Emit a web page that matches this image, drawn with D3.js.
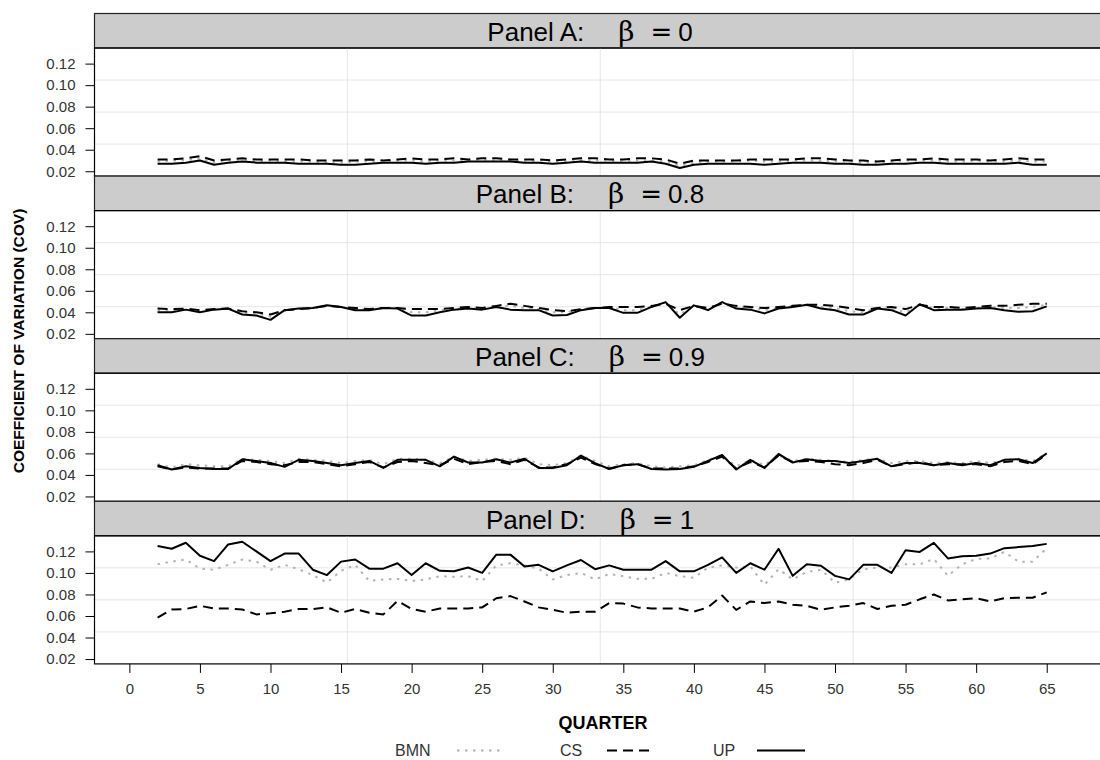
<!DOCTYPE html>
<html>
<head>
<meta charset="utf-8">
<script src="https://cdn.jsdelivr.net/npm/d3@7"></script>
<style>
  body { margin: 0; background: #fff; }
  svg { display: block; font-family: "Liberation Sans", Arial, sans-serif; }
</style>
</head>
<body>
<div id="chart"></div>
<script>
// quarters 2..65
var quarters = d3.range(2, 66);

var panel_titles = ['Panel A:', 'Panel B:', 'Panel C:', 'Panel D:'];
var panel_betas = ['0', '0.8', '0.9', '1'];

var y_ticks = [0.02, 0.04, 0.06, 0.08, 0.10, 0.12];
var x_ticks = [0, 5, 10, 15, 20, 25, 30, 35, 40, 45, 50, 55, 60, 65];

var series_names = ['BMN', 'CS', 'UP'];

// Panel A: beta = 0
var bmn_a = [0.029, 0.030, 0.030, 0.032, 0.028, 0.030, 0.030, 0.029, 0.030, 0.029,
             0.029, 0.029, 0.028, 0.028, 0.029, 0.029, 0.029, 0.030, 0.030, 0.029,
             0.030, 0.030, 0.030, 0.031, 0.030, 0.030, 0.029, 0.030, 0.029, 0.029,
             0.030, 0.030, 0.030, 0.029, 0.030, 0.030, 0.029, 0.025, 0.028, 0.029,
             0.029, 0.029, 0.030, 0.029, 0.029, 0.030, 0.030, 0.030, 0.029, 0.029,
             0.028, 0.028, 0.029, 0.030, 0.030, 0.030, 0.029, 0.029, 0.030, 0.029,
             0.029, 0.030, 0.029, 0.029];
var cs_a = [0.031, 0.031, 0.032, 0.034, 0.030, 0.031, 0.032, 0.031, 0.031, 0.031,
            0.031, 0.030, 0.030, 0.030, 0.030, 0.031, 0.030, 0.031, 0.032, 0.031,
            0.031, 0.032, 0.031, 0.032, 0.032, 0.031, 0.031, 0.031, 0.030, 0.031,
            0.032, 0.032, 0.031, 0.031, 0.032, 0.032, 0.031, 0.027, 0.030, 0.030,
            0.030, 0.030, 0.031, 0.031, 0.031, 0.031, 0.032, 0.032, 0.031, 0.030,
            0.030, 0.029, 0.030, 0.031, 0.031, 0.032, 0.031, 0.031, 0.031, 0.030,
            0.031, 0.032, 0.031, 0.031];
var up_a = [0.027, 0.027, 0.028, 0.030, 0.026, 0.028, 0.029, 0.028, 0.028, 0.028,
            0.027, 0.027, 0.027, 0.026, 0.026, 0.027, 0.028, 0.028, 0.028, 0.027,
            0.028, 0.028, 0.029, 0.029, 0.029, 0.029, 0.028, 0.028, 0.027, 0.028,
            0.029, 0.028, 0.028, 0.028, 0.028, 0.029, 0.027, 0.023, 0.026, 0.027,
            0.027, 0.027, 0.027, 0.026, 0.027, 0.028, 0.028, 0.028, 0.027, 0.027,
            0.026, 0.026, 0.027, 0.027, 0.028, 0.028, 0.027, 0.027, 0.027, 0.027,
            0.027, 0.028, 0.026, 0.026];

// Panel B: beta = 0.8
var bmn_b = [0.042, 0.042, 0.043, 0.041, 0.043, 0.043, 0.040, 0.039, 0.036, 0.042,
             0.043, 0.044, 0.046, 0.045, 0.043, 0.043, 0.044, 0.044, 0.040, 0.040,
             0.042, 0.043, 0.044, 0.043, 0.045, 0.046, 0.044, 0.043, 0.040, 0.040,
             0.043, 0.044, 0.045, 0.042, 0.042, 0.045, 0.049, 0.038, 0.046, 0.043,
             0.049, 0.045, 0.044, 0.042, 0.044, 0.046, 0.047, 0.045, 0.044, 0.041,
             0.040, 0.044, 0.043, 0.040, 0.047, 0.044, 0.044, 0.043, 0.044, 0.045,
             0.044, 0.044, 0.045, 0.047];
var cs_b = [0.0435, 0.043, 0.0435, 0.042, 0.043, 0.0435, 0.041, 0.040, 0.038, 0.042,
            0.043, 0.044, 0.046, 0.045, 0.044, 0.043, 0.044, 0.044, 0.043, 0.043,
            0.043, 0.044, 0.045, 0.044, 0.046, 0.048, 0.046, 0.044, 0.042, 0.041,
            0.043, 0.044, 0.045, 0.045, 0.045, 0.046, 0.048, 0.042, 0.046, 0.044,
            0.048, 0.046, 0.045, 0.044, 0.045, 0.046, 0.047, 0.047, 0.046, 0.044,
            0.042, 0.044, 0.045, 0.043, 0.047, 0.045, 0.045, 0.044, 0.045, 0.046,
            0.046, 0.047, 0.048, 0.048];
var up_b = [0.040, 0.040, 0.0425, 0.040, 0.0425, 0.0435, 0.038, 0.037, 0.033, 0.042,
            0.0435, 0.044, 0.0465, 0.045, 0.042, 0.042, 0.044, 0.0435, 0.037, 0.037,
            0.040, 0.0425, 0.0435, 0.0425, 0.045, 0.0425, 0.042, 0.042, 0.037, 0.0375,
            0.042, 0.044, 0.044, 0.0395, 0.0395, 0.045, 0.0495, 0.035, 0.0465, 0.042,
            0.0495, 0.0435, 0.0425, 0.039, 0.0435, 0.045, 0.047, 0.0435, 0.042, 0.038,
            0.038, 0.0435, 0.042, 0.037, 0.0475, 0.042, 0.0425, 0.0425, 0.0435, 0.044,
            0.042, 0.0405, 0.041, 0.0455];

// Panel C: beta = 0.9
var bmn_c = [0.050, 0.047, 0.050, 0.049, 0.048, 0.048, 0.055, 0.054, 0.053, 0.051,
             0.055, 0.054, 0.053, 0.051, 0.053, 0.054, 0.050, 0.055, 0.055, 0.054,
             0.051, 0.057, 0.053, 0.054, 0.055, 0.054, 0.056, 0.050, 0.049, 0.051,
             0.058, 0.053, 0.048, 0.050, 0.051, 0.048, 0.047, 0.048, 0.049, 0.054,
             0.058, 0.048, 0.054, 0.049, 0.058, 0.053, 0.055, 0.054, 0.053, 0.052,
             0.054, 0.055, 0.051, 0.053, 0.053, 0.051, 0.052, 0.051, 0.053, 0.051,
             0.054, 0.055, 0.053, 0.060];
var cs_c = [0.048, 0.045, 0.047, 0.046, 0.046, 0.046, 0.053, 0.052, 0.050, 0.049,
            0.052, 0.052, 0.050, 0.048, 0.050, 0.052, 0.047, 0.052, 0.053, 0.051,
            0.049, 0.055, 0.050, 0.052, 0.053, 0.050, 0.054, 0.047, 0.047, 0.050,
            0.056, 0.050, 0.046, 0.049, 0.050, 0.046, 0.046, 0.046, 0.048, 0.052,
            0.057, 0.046, 0.052, 0.047, 0.058, 0.052, 0.053, 0.052, 0.050, 0.049,
            0.051, 0.054, 0.048, 0.050, 0.052, 0.049, 0.050, 0.050, 0.050, 0.048,
            0.052, 0.053, 0.050, 0.059];
var up_c = [0.049, 0.045, 0.048, 0.0465, 0.0455, 0.0455, 0.0545, 0.053, 0.051, 0.0475,
            0.054, 0.053, 0.051, 0.049, 0.051, 0.053, 0.0465, 0.054, 0.054, 0.054,
            0.048, 0.057, 0.0515, 0.0515, 0.0545, 0.0515, 0.055, 0.0465, 0.0465, 0.049,
            0.058, 0.051, 0.0455, 0.049, 0.050, 0.0455, 0.045, 0.0455, 0.0475, 0.053,
            0.0585, 0.045, 0.054, 0.0465, 0.0595, 0.0515, 0.0545, 0.053, 0.053, 0.051,
            0.053, 0.055, 0.048, 0.051, 0.051, 0.049, 0.051, 0.049, 0.051, 0.049,
            0.054, 0.0545, 0.051, 0.060];

// Panel D: beta = 1
var bmn_d = [0.108, 0.1105, 0.1125, 0.104, 0.103, 0.1075, 0.1125, 0.1105, 0.103, 0.1075,
             0.1035, 0.098, 0.091, 0.102, 0.1075, 0.0925, 0.094, 0.0945, 0.0925, 0.094,
             0.097, 0.0965, 0.097, 0.0925, 0.107, 0.109, 0.107, 0.104, 0.094, 0.098,
             0.100, 0.094, 0.099, 0.097, 0.0945, 0.0945, 0.100, 0.097, 0.0955, 0.105,
             0.107, 0.105, 0.106, 0.089, 0.1035, 0.094, 0.101, 0.103, 0.091, 0.094,
             0.1035, 0.105, 0.105, 0.108, 0.108, 0.113, 0.0973, 0.108, 0.113, 0.1135,
             0.1195, 0.1105, 0.1105, 0.123];
var cs_d = [0.0585, 0.066, 0.0665, 0.0695, 0.067, 0.067, 0.066, 0.0615, 0.0625, 0.064,
            0.0665, 0.0665, 0.068, 0.063, 0.0665, 0.063, 0.0615, 0.074, 0.0665, 0.064,
            0.067, 0.067, 0.067, 0.068, 0.0765, 0.0785, 0.0735, 0.068, 0.0657, 0.063,
            0.064, 0.064, 0.072, 0.0715, 0.068, 0.067, 0.067, 0.067, 0.064, 0.068,
            0.079, 0.0657, 0.0735, 0.072, 0.0735, 0.0705, 0.0695, 0.0657, 0.068, 0.0695,
            0.072, 0.0665, 0.0695, 0.0705, 0.0755, 0.080, 0.0745, 0.0755, 0.0765, 0.0735,
            0.0765, 0.077, 0.077, 0.082];
var up_d = [0.125, 0.1225, 0.128, 0.116, 0.111, 0.1265, 0.129, 0.120, 0.111, 0.118,
            0.118, 0.103, 0.098, 0.1105, 0.1125, 0.104, 0.104, 0.109, 0.098, 0.109,
            0.102, 0.1015, 0.105, 0.100, 0.117, 0.117, 0.106, 0.1075, 0.1015, 0.107,
            0.112, 0.1035, 0.107, 0.103, 0.103, 0.103, 0.111, 0.1015, 0.1015, 0.1075,
            0.1145, 0.100, 0.109, 0.103, 0.1225, 0.0973, 0.108, 0.1067, 0.0973, 0.094,
            0.1075, 0.1075, 0.100, 0.121, 0.1195, 0.128, 0.1135, 0.1155, 0.116, 0.118,
            0.123, 0.124, 0.125, 0.127];

var panel_data = [
    [bmn_a, cs_a, up_a],
    [bmn_b, cs_b, up_b],
    [bmn_c, cs_c, up_c],
    [bmn_d, cs_d, up_d]
];

var width = 1100, height = 760;
var left = 94.5, right = 1106;
var first_top = 13.5, strip_h = 34.5, plot_h = 128.1;
var period = strip_h + plot_h;
var label_color = '#333';

var line_styles = {
    BMN: {stroke: '#b3b3b3', width: 2, dash: '2.5,5.5'},
    CS:  {stroke: '#000', width: 2, dash: '10,6'},
    UP:  {stroke: '#000', width: 2, dash: null}
};

var svg = d3.select('#chart').append('svg')
    .attr('width', width)
    .attr('height', height);

var x = d3.scaleLinear().domain([-2.47, 69.2]).range([left, right]);

panel_data.forEach(function(series, i) {
    var strip_top = first_top + i * period;
    var plot_top = strip_top + strip_h;
    var plot_bottom = plot_top + plot_h;

    var y = d3.scaleLinear().domain([0.0155, 0.1345]).range([plot_bottom, plot_top]);

    // strip
    svg.append('rect')
        .attr('x', left).attr('y', strip_top)
        .attr('width', right - left).attr('height', strip_h)
        .attr('fill', '#cccccc')
        .attr('stroke', '#222').attr('stroke-width', 1.2);

    var title = svg.append('text')
        .attr('x', 590).attr('y', strip_top + strip_h / 2 + 1)
        .attr('dy', '0.35em')
        .attr('text-anchor', 'middle')
        .attr('font-size', 26)
        .attr('fill', '#000');
    title.append('tspan').text(panel_titles[i]);
    title.append('tspan').attr('dx', 34).attr('font-size', 28)
        .attr('font-family', 'DejaVu Serif, serif').text('\u03b2');
    title.append('tspan').attr('dx', 16).attr('font-family', 'DejaVu Sans, sans-serif').text('=');
    title.append('tspan').attr('dx', 6).text(panel_betas[i]);

    var g = svg.append('g');

    // panel.grid(h = 3, v = 3)
    [1, 2, 3].forEach(function(k) {
        g.append('line')
            .attr('x1', left).attr('x2', right)
            .attr('y1', plot_top + plot_h * k / 4).attr('y2', plot_top + plot_h * k / 4)
            .attr('stroke', '#e6e6e6').attr('stroke-width', 1);
        g.append('line')
            .attr('x1', left + (right - left) * k / 4).attr('x2', left + (right - left) * k / 4)
            .attr('y1', plot_top).attr('y2', plot_bottom)
            .attr('stroke', '#e6e6e6').attr('stroke-width', 1);
    });

    var line = d3.line()
        .x(function(d, j) { return x(quarters[j]); })
        .y(function(d) { return y(d); });

    series.forEach(function(values, s) {
        var st = line_styles[series_names[s]];
        g.append('path')
            .datum(values)
            .attr('d', line)
            .attr('fill', 'none')
            .attr('stroke', st.stroke)
            .attr('stroke-width', st.width)
            .attr('stroke-dasharray', st.dash)
            .attr('stroke-linejoin', 'round');
    });

    svg.append('rect')
        .attr('x', left).attr('y', plot_top)
        .attr('width', right - left).attr('height', plot_h)
        .attr('fill', 'none')
        .attr('stroke', '#000').attr('stroke-width', 1.2);

    var y_axis = svg.append('g')
        .attr('transform', 'translate(' + left + ',0)')
        .call(d3.axisLeft(y).tickValues(y_ticks).tickSize(9).tickPadding(10)
              .tickFormat(d3.format('.2f')));
    y_axis.select('.domain').remove();
    y_axis.selectAll('text').attr('font-size', 15).attr('fill', label_color)
        .attr('font-family', 'Liberation Sans, Arial, sans-serif');
    y_axis.selectAll('line').attr('stroke', '#000');

    if (i == panel_data.length - 1) {
        var x_axis = svg.append('g')
            .attr('transform', 'translate(0,' + plot_bottom + ')')
            .call(d3.axisBottom(x).tickValues(x_ticks).tickSize(9).tickPadding(10));
        x_axis.select('.domain').remove();
        x_axis.selectAll('text').attr('font-size', 15).attr('fill', label_color)
            .attr('font-family', 'Liberation Sans, Arial, sans-serif');
        x_axis.selectAll('line').attr('stroke', '#000');
    }
});

// axis titles
svg.append('text')
    .attr('x', 603).attr('y', 723)
    .attr('dy', '0.35em')
    .attr('text-anchor', 'middle')
    .attr('font-size', 18).attr('font-weight', 'bold')
    .text('QUARTER');

svg.append('text')
    .attr('transform', 'translate(19,341) rotate(-90)')
    .attr('dy', '0.35em')
    .attr('text-anchor', 'middle')
    .attr('font-size', 15.5).attr('font-weight', 'bold')
    .text('COEFFICIENT OF VARIATION (COV)');

// legend
var legend_x = [395, 560, 713];
var legend_line_x = [457, 607, 757];
var legend_y = 750.5;
series_names.forEach(function(name, s) {
    var st = line_styles[name];
    svg.append('text')
        .attr('x', legend_x[s]).attr('y', legend_y)
        .attr('dy', '0.35em')
        .attr('font-size', 16).attr('fill', label_color)
        .text(name);
    svg.append('line')
        .attr('x1', legend_line_x[s]).attr('x2', legend_line_x[s] + 48)
        .attr('y1', legend_y).attr('y2', legend_y)
        .attr('stroke', st.stroke)
        .attr('stroke-width', st.width)
        .attr('stroke-dasharray', st.dash);
});
</script>
</body>
</html>
